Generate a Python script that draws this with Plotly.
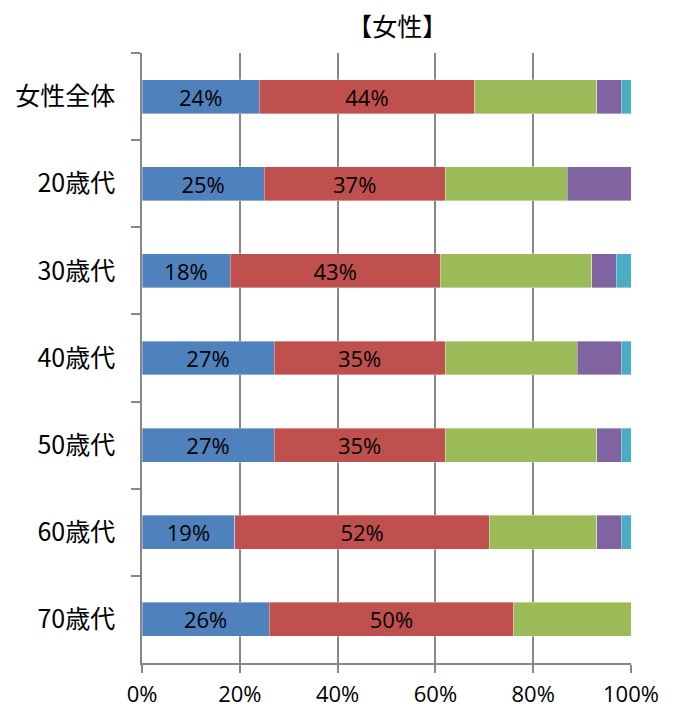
import plotly.graph_objects as go

categories = ["女性全体", "20歳代", "30歳代", "40歳代", "50歳代", "60歳代", "70歳代"]
series_names = ["S1", "S2", "S3", "S4", "S5"]
s1 = [24, 25, 18, 27, 27, 19, 26]
s2 = [44, 37, 43, 35, 35, 52, 50]
s3 = [25, 25, 31, 27, 31, 22, 24]
s4 = [5, 13, 5, 9, 5, 5, 0]
s5 = [2, 0, 3, 2, 2, 2, 0]
x_ticks = [0, 20, 40, 60, 80, 100]

colors = ["#4F81BD", "#C0504D", "#9BBB59", "#8064A2", "#4BACC6"]
labeled = [True, True, False, False, False]

fig = go.Figure()
for name, vals, col, lab in zip(series_names, [s1, s2, s3, s4, s5], colors, labeled):
    fig.add_trace(go.Bar(
        y=categories, x=vals, orientation="h", name=name,
        marker=dict(color=col, line=dict(color="rgba(255,255,255,0.6)", width=0.6)),
        text=[f"{v}%" for v in vals] if lab else None,
        textposition="inside" if lab else "none",
        insidetextanchor="middle",
        constraintext="none",
        textangle=0,
        textfont=dict(color="black", size=22, family="Open Sans, Noto Sans CJK JP"),
        hoverinfo="skip",
    ))

fig.update_layout(
    barmode="stack",
    bargap=0.61,
    width=668, height=701,
    margin=dict(l=134, r=45, t=45, b=46),
    paper_bgcolor="white", plot_bgcolor="white",
    showlegend=False,
    uniformtext=dict(mode=False),
    font=dict(family="Noto Sans CJK JP", size=22, color="black"),
    title=dict(text="【女性】", x=0.522, xref="paper", xanchor="center",
               y=0.972, yref="container", yanchor="middle",
               font=dict(size=25, family="Noto Sans CJK JP", color="black")),
)
fig.update_xaxes(
    range=[0, 100], tickvals=x_ticks, ticktext=[f"{v}%" for v in x_ticks],
    showgrid=True, gridcolor="#878787", gridwidth=1.5,
    showline=True, linecolor="#878787", linewidth=1.5,
    ticks="outside", ticklen=8, tickcolor="#878787", tickwidth=1.5,
    tickfont=dict(size=22, family="Open Sans, Noto Sans CJK JP"),
    ticklabelstandoff=3,
    zeroline=False, fixedrange=True, automargin=False,
)
fig.update_yaxes(
    type="category", categoryorder="array", categoryarray=categories,
    autorange="reversed",
    tickson="boundaries", ticks="outside", ticklen=9, tickcolor="#878787", tickwidth=1.5,
    showgrid=False, showline=True, linecolor="#878787", linewidth=1.5,
    tickfont=dict(size=25, family="Noto Sans CJK JP"),
    ticklabelstandoff=20, automargin=False,
)

fig.write_html("out.html")
